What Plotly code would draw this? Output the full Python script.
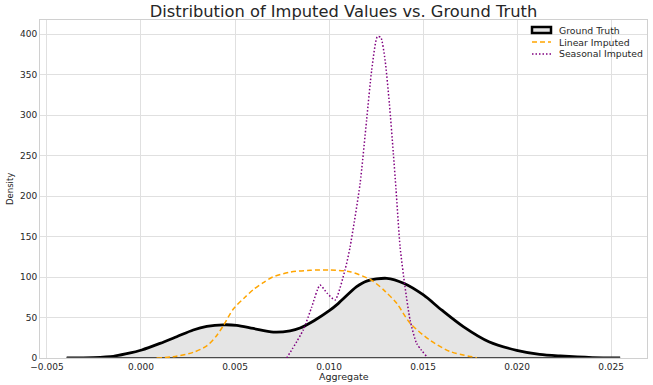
import plotly.graph_objects as go

# Ground truth KDE
gt_x = [-0.00395, -0.00254, -0.00147, -0.00076, 0.00004, 0.00101, 0.0019, 0.00278, 0.0035,
        0.00438, 0.00509, 0.00597, 0.00704, 0.00793, 0.00846, 0.00920, 0.01005, 0.0105,
        0.01147, 0.0120, 0.01307, 0.0140, 0.01502, 0.0160, 0.01714, 0.0185, 0.01998,
        0.0212, 0.0223, 0.0240, 0.02548]
gt_d = [0, 0.5, 2, 5.3, 9.9, 18, 26.3, 34.6, 39,
        41, 40.3, 36.5, 32, 33.5, 37, 46, 59, 67.5,
        88, 95, 98.4, 92, 77.8, 59, 38.7, 20, 9.5,
        4.5, 2.5, 0.5, 0]

# Linear imputed KDE
lin_x = [0.00083, 0.00172, 0.00278, 0.0035, 0.00402, 0.00438, 0.00491, 0.00553, 0.0060,
         0.0065, 0.0070, 0.00793, 0.0090, 0.01005, 0.01112, 0.01227, 0.0130, 0.0136,
         0.01431, 0.01537, 0.01644, 0.01786]
lin_d = [0, 1.6, 7, 15, 27.5, 40, 60.5, 75, 85,
         93, 100, 106, 108.3, 108.6, 106.5, 95.8, 82, 67.5,
         43, 22, 8, 0.4]

# Seasonal imputed KDE
sea_x = [0.00775, 0.00863, 0.00908, 0.00952, 0.0099, 0.01032, 0.01085, 0.01112, 0.01165,
         0.0120, 0.01227, 0.01257, 0.01275, 0.01298, 0.01321, 0.01342, 0.01356, 0.01378,
         0.01404, 0.01431, 0.01466, 0.0152]
sea_d = [0, 34.6, 63, 90, 80, 71.6, 108.6, 137, 215,
         294, 355.6, 396.7, 396, 368, 314, 253, 209, 137,
         88, 47, 18, 1.6]

x_ticks = [-0.005, 0.0, 0.005, 0.010, 0.015, 0.020, 0.025]
x_tick_text = ["\u22120.005", "0.000", "0.005", "0.010", "0.015", "0.020", "0.025"]
y_ticks = [0, 50, 100, 150, 200, 250, 300, 350, 400]
legend_names = ["Ground Truth", "Linear Imputed", "Seasonal Imputed"]

FONT = "DejaVu Sans"
TXT = "#262626"
W, H = 653, 385
ML, MR, MT, MB = 40, 6, 20, 27
PW, PH = W - ML - MR, H - MT - MB


def px_to_paper_x(px):
    return (px - ML) / PW


def px_to_paper_y(py):
    return 1 - (py - MT) / PH


fig = go.Figure()
fig.add_trace(go.Scatter(
    x=gt_x, y=gt_d, mode="lines", name=legend_names[0], showlegend=False,
    line=dict(color="black", width=2.8, shape="spline", smoothing=0.8),
    fill="tozeroy", fillcolor="rgb(229,229,229)",
))
fig.add_trace(go.Scatter(
    x=[gt_x[0], gt_x[-1]], y=[0, 0], mode="lines", showlegend=False,
    line=dict(color="#4a4a4a", width=2), hoverinfo="skip",
))
fig.add_trace(go.Scatter(
    x=lin_x, y=lin_d, mode="lines", name=legend_names[1], showlegend=False,
    line=dict(color="orange", width=1.5, dash="5px,3px", shape="spline", smoothing=0.8),
))
fig.add_trace(go.Scatter(
    x=sea_x, y=sea_d, mode="lines", name=legend_names[2], showlegend=False,
    line=dict(color="purple", width=1.5, dash="1.5px,2px", shape="spline", smoothing=0.6),
))

# manual legend (matplotlib-like compact spacing)
shapes = []
annotations = []
rows_y = [30, 42, 54]
gx0, gx1 = 532, 551
shapes.append(dict(type="rect", xref="paper", yref="paper",
                   x0=px_to_paper_x(gx0), x1=px_to_paper_x(gx1),
                   y0=px_to_paper_y(rows_y[0] + 3), y1=px_to_paper_y(rows_y[0] - 3),
                   line=dict(color="black", width=2.5), fillcolor="rgb(229,229,229)"))
shapes.append(dict(type="line", xref="paper", yref="paper",
                   x0=px_to_paper_x(gx0), x1=px_to_paper_x(gx1),
                   y0=px_to_paper_y(rows_y[1]), y1=px_to_paper_y(rows_y[1]),
                   line=dict(color="orange", width=1.5, dash="5px,3px")))
shapes.append(dict(type="line", xref="paper", yref="paper",
                   x0=px_to_paper_x(gx0), x1=px_to_paper_x(gx1),
                   y0=px_to_paper_y(rows_y[2]), y1=px_to_paper_y(rows_y[2]),
                   line=dict(color="purple", width=1.5, dash="1.5px,2px")))
for name, ry in zip(legend_names, rows_y):
    annotations.append(dict(text=name, xref="paper", yref="paper",
                            x=px_to_paper_x(557), y=px_to_paper_y(ry),
                            xanchor="left", yanchor="middle", showarrow=False,
                            font=dict(size=9.3, color=TXT, family=FONT)))

# axis titles
annotations.append(dict(text="Aggregate", xref="paper", yref="paper",
                        x=0.5, y=px_to_paper_y(376),
                        xanchor="center", yanchor="middle", showarrow=False,
                        font=dict(size=9.5, color=TXT, family=FONT)))
annotations.append(dict(text="Density", xref="paper", yref="paper",
                        x=px_to_paper_x(10), y=0.5,
                        xanchor="center", yanchor="middle", showarrow=False,
                        textangle=-90,
                        font=dict(size=8.5, color=TXT, family=FONT)))

fig.update_layout(
    width=W, height=H,
    margin=dict(l=ML, r=MR, t=MT, b=MB),
    paper_bgcolor="white", plot_bgcolor="white",
    font=dict(family=FONT, size=9, color=TXT),
    title=dict(text="Distribution of Imputed Values vs. Ground Truth",
               xref="paper", x=0.5, xanchor="center",
               yref="container", y=1 - 11.5 / H, yanchor="middle",
               font=dict(size=16.3, color=TXT)),
    showlegend=False,
    shapes=shapes,
    annotations=annotations,
)
fig.update_xaxes(
    range=[-0.00537, 0.02691], tickvals=x_ticks, ticktext=x_tick_text,
    showgrid=True, gridcolor="#e0e0e0", gridwidth=1,
    zeroline=False, showline=True, linecolor="#d0d0d0", mirror=True,
    ticks="", tickfont=dict(size=9, color=TXT), automargin=False,
)
fig.update_yaxes(
    range=[0, 417.3], tickvals=y_ticks,
    showgrid=True, gridcolor="#e0e0e0", gridwidth=1,
    zeroline=False, showline=True, linecolor="#d0d0d0", mirror=True,
    ticks="", tickfont=dict(size=9, color=TXT), automargin=False,
)

fig.write_html("out.html",
               config={"displayModeBar": False},
               post_script="document.body.style.margin='0';document.body.style.overflow='hidden';")
